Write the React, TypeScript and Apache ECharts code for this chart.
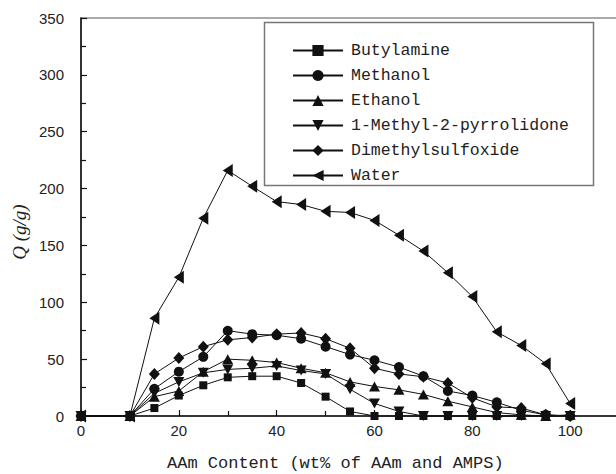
import React, { useEffect, useRef } from "react";
import * as echarts from "echarts";

const xValues = [0, 10, 15, 20, 25, 30, 35, 40, 45, 50, 55, 60, 65, 70, 75, 80, 85, 90, 95, 100];

const butylamine = [0, 0, 7, 18, 27, 34, 35, 35, 29, 17, 4, 0, 0, 0, 0, 0, 0, 0, 0, 0];
const methanol = [0, 0, 24, 39, 52, 75, 72, 71, 68, 61, 54, 49, 43, 35, 22, 18, 12, 5, 1, 0];
const ethanol = [0, 0, 17, 22, 39, 50, 49, 47, 42, 38, 30, 26, 23, 19, 13, 8, 3, 1, 0, 1];
const nmp = [0, 0, 20, 30, 38, 41, 42, 44, 40, 37, 23.5, 11, 4, 0, 0, 0, 0, 0, 0, 0];
const dmso = [0, 0, 37, 51, 61, 67, 69, 72, 73, 68, 59.5, 42, 37, 34.5, 29, 16, 8, 7, 1, 0];
const water = [0, 0, 86, 122, 174, 216, 202, 188.5, 186, 180, 179, 172, 159, 145, 126, 105, 74, 62, 46, 11];

const seriesNames = [
  "Butylamine",
  "Methanol",
  "Ethanol",
  "1-Methyl-2-pyrrolidone",
  "Dimethylsulfoxide",
  "Water",
];

const yTicks = [0, 50, 100, 150, 200, 250, 300, 350];
const xTickLabels = [0, 20, 40, 60, 80, 100];

export default function App() {
  const ref = useRef<HTMLDivElement>(null);

  useEffect(() => {
    if (!ref.current) return;
    const chart = echarts.init(ref.current, null, { renderer: "svg" });

    const datasets = [butylamine, methanol, ethanol, nmp, dmso, water];
    const symbols: any[] = [
      { symbol: "rect", size: 8, rotate: 0 },
      { symbol: "circle", size: 10, rotate: 0 },
      { symbol: "triangle", size: [11, 10], rotate: 0 },
      { symbol: "triangle", size: [11, 10], rotate: 180 },
      { symbol: "diamond", size: [11, 12], rotate: 0 },
      { symbol: "triangle", size: [13, 10], rotate: 90 },
    ];

    const series = datasets.map((arr, i) => ({
      name: seriesNames[i],
      type: "line",
      data: xValues.map((x, j) => [x, arr[j]]),
      symbol: symbols[i].symbol,
      symbolSize: symbols[i].size,
      symbolRotate: symbols[i].rotate,
      showSymbol: true,
      lineStyle: { color: "#111", width: 1 },
      itemStyle: { color: "#111" },
      clip: false,
    }));

    chart.setOption({
      animation: false,
      backgroundColor: "#fff",
      grid: {
        left: 81,
        top: 18,
        right: -52,
        bottom: 58,
        outerBoundsMode: "none",
        containLabel: false,
        show: true,
        borderColor: "#555",
        borderWidth: 1.2,
      },
      legend: {
        orient: "vertical",
        left: 287,
        top: 37,
        itemWidth: 50,
        itemHeight: 14,
        itemGap: 8,
        data: seriesNames,
        textStyle: {
          fontFamily: "Liberation Mono",
          fontSize: 16.5,
          color: "#222",
          padding: [0, 0, 0, 3],
        },
      },
      xAxis: {
        type: "value",
        min: 0,
        max: 120,
        interval: 20,
        axisLine: { show: true, lineStyle: { color: "#111", width: 1.5 } },
        axisTick: { show: true, inside: true, length: 6, lineStyle: { color: "#111", width: 1.2 } },
        minorTick: { show: true, splitNumber: 2, length: 5, lineStyle: { color: "#111", width: 1.2 } },
        splitLine: { show: false },
        axisLabel: {
          margin: 7,
          fontFamily: "Liberation Sans",
          fontSize: 15,
          color: "#222",
          formatter: (v: number) => (xTickLabels.indexOf(v) >= 0 ? String(v) : ""),
        },
      },
      yAxis: {
        type: "value",
        min: 0,
        max: 350,
        interval: 50,
        axisLine: { show: true, lineStyle: { color: "#111", width: 1.5 } },
        axisTick: { show: true, inside: true, length: 6, lineStyle: { color: "#111", width: 1.2 } },
        minorTick: { show: true, splitNumber: 2, length: 5, lineStyle: { color: "#111", width: 1.2 } },
        splitLine: { show: false },
        axisLabel: {
          margin: 17,
          fontFamily: "Liberation Sans",
          fontSize: 15,
          color: "#222",
          formatter: (v: number) => (yTicks.indexOf(v) >= 0 ? String(v) : ""),
        },
      },
      graphic: [
        {
          type: "rect",
          left: 262,
          top: 20,
          shape: { x: 0, y: 0, width: 329, height: 163 },
          style: { fill: "none", stroke: "#777", lineWidth: 1.5 },
          z: 10,
        },
        {
          type: "text",
          x: 167,
          y: 463,
          style: {
            text: "AAm Content (wt% of AAm and AMPS)",
            fontFamily: "Liberation Mono",
            fontSize: 17,
            fill: "#222",
            textAlign: "left",
            textVerticalAlign: "middle",
          },
        },
        {
          type: "text",
          x: 19,
          y: 232,
          rotation: Math.PI / 2,
          style: {
            text: "Q (g/g)",
            fontFamily: "Liberation Serif",
            fontStyle: "italic",
            fontSize: 19,
            fill: "#222",
            textAlign: "center",
            textVerticalAlign: "middle",
          },
        },
      ],
      series,
    });

    return () => chart.dispose();
  }, []);

  return (
    <div
      ref={ref}
      style={{ position: "absolute", left: 0, top: 0, width: 616, height: 474 }}
    />
  );
}
